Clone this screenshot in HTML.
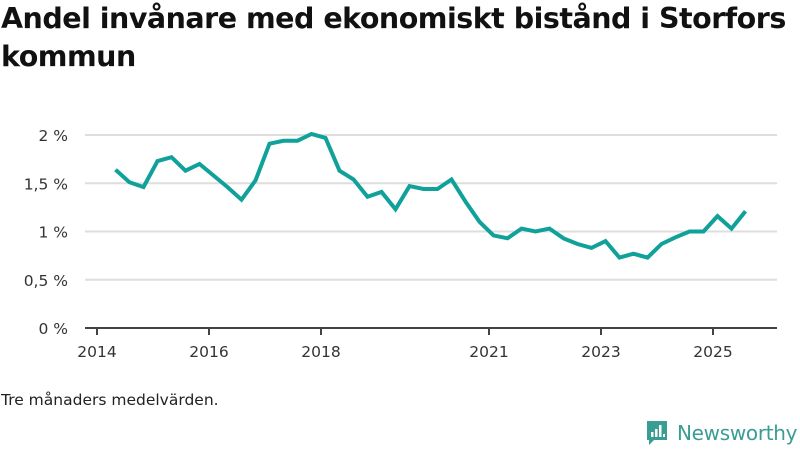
<!DOCTYPE html>
<html><head><meta charset="utf-8"><style>
body{margin:0;background:#fff;width:800px;height:450px;overflow:hidden;font-family:"Liberation Sans",sans-serif;position:relative}
h1{position:absolute;left:1px;top:0px;margin:0;font-family:"DejaVu Sans",sans-serif;font-size:28.5px;line-height:38px;font-weight:bold;color:#111;width:800px;letter-spacing:-0.5px;white-space:nowrap}
.note{position:absolute;left:1px;top:391px;font-family:"DejaVu Sans",sans-serif;font-size:15.5px;color:#222}
.logo{position:absolute;left:645px;top:420px;display:flex;align-items:center}
.logo span{font-family:"DejaVu Sans",sans-serif;font-size:20px;color:#3a9d94;margin-left:8px;letter-spacing:-0.3px}
</style></head><body>
<h1>Andel invånare med ekonomiskt bistånd i Storfors<br>kommun</h1>
<svg id="chart" width="800" height="450" style="position:absolute;left:0;top:0"></svg>
<div class="note">Tre månaders medelvärden.</div>
<div class="logo">
<svg width="24" height="26"><path d="M2 1h20v19H9l-5 5v-5H2z" fill="#3a9d94"/><rect x="6" y="12" width="2.5" height="5" fill="#fff"/><rect x="10" y="9" width="2.5" height="8" fill="#fff"/><rect x="14" y="5" width="2.5" height="12" fill="#fff"/><rect x="18" y="14" width="2" height="3" fill="#fff"/></svg>
<span>Newsworthy</span></div>
<script>
const startYear = 2014.33;
const values = [1.64,1.51,1.46,1.73,1.77,1.63,1.70,1.58,1.46,1.33,1.53,1.91,1.94,1.94,2.01,1.97,1.63,1.54,1.36,1.41,1.23,1.47,1.44,1.44,1.54,1.31,1.10,0.96,0.93,1.03,1.00,1.03,0.93,0.87,0.83,0.90,0.73,0.77,0.73,0.87,0.94,1.00,1.00,1.16,1.03,1.21];
const yTicks = [0,0.5,1,1.5,2];
const yTickLabels = ["0 %","0,5 %","1 %","1,5 %","2 %"];
const xTicks = [2014,2016,2018,2021,2023,2025];
const NS='http://www.w3.org/2000/svg';
const svg=document.getElementById('chart');
const x=t=>97+(t-2014)*56;
const y=v=>328-v*96.5;
function mk(tag,attrs){const e=document.createElementNS(NS,tag);for(const k in attrs)e.setAttribute(k,attrs[k]);svg.appendChild(e);return e;}
yTicks.forEach((v,i)=>{
  if(v>0){const g=mk('line',{x1:85,x2:777,y1:y(v),y2:y(v),stroke:'#dedede','stroke-width':2});
  
  }
  const t=mk('text',{x:68,y:y(v)+6,'text-anchor':'end','font-size':15.5,fill:'#333','font-family':'DejaVu Sans, sans-serif'});
  t.textContent=yTickLabels[i];
  
  
});
const ax=mk('line',{x1:85,x2:777,y1:328,y2:328,stroke:'#444','stroke-width':2});


xTicks.forEach(yr=>{
  const tk=mk('line',{x1:x(yr),x2:x(yr),y1:328,y2:335,stroke:'#444','stroke-width':2});
  
  
  const t=mk('text',{x:x(yr),y:357,'text-anchor':'middle','font-size':15.5,fill:'#333','font-family':'DejaVu Sans, sans-serif'});
  t.textContent=yr;
  
  
});
const pts=values.map((v,i)=>x(startYear+i*0.25).toFixed(1)+','+y(v).toFixed(1)).join(' ');
const line=mk('polyline',{points:pts,fill:'none',stroke:'#0fa19a','stroke-width':4,'stroke-linejoin':'miter'});


</script>
</body></html>
